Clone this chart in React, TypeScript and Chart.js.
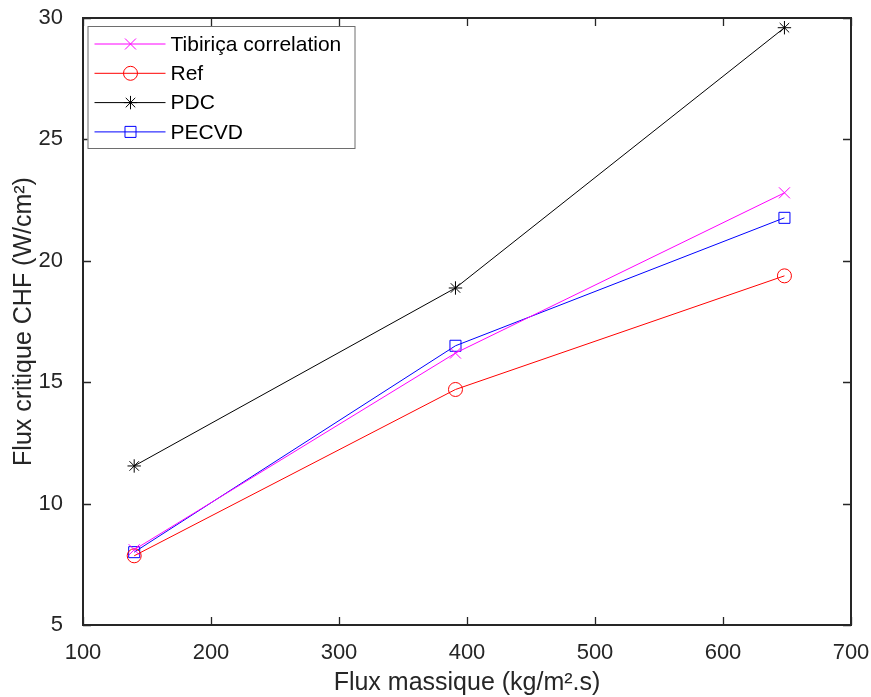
import React, { useEffect, useRef } from 'react';
import { Chart, registerables } from 'chart.js';
import { drawPoint } from 'chart.js/helpers';

Chart.register(...registerables);

// ---- Data ----
const massFlux = [140, 391, 648];
const tibiricaValues = [8.1, 16.2, 22.8];
const refValues = [7.85, 14.7, 19.38];
const pdcValues = [11.55, 18.88, 29.6];
const pecvdValues = [8.0, 16.5, 21.77];
const seriesLabels = ['Tibiriça correlation', 'Ref', 'PDC', 'PECVD'];
const xTickValues = [100, 200, 300, 400, 500, 600, 700];
const yTickValues = [5, 10, 15, 20, 25, 30];
const xTitle = 'Flux massique (kg/m².s)';
const yTitle = 'Flux critique CHF (W/cm²)';

const AXIS_COLOR = '#262626';
const FONT = '"Liberation Sans", Arial, Helvetica, sans-serif';

const boxPlugin = {
  id: 'matlabBox',
  afterDatasetsDraw(chart: any) {
    const { ctx, chartArea: a, scales } = chart;
    const xs = scales.x;
    const ys = scales.y;
    ctx.save();
    ctx.strokeStyle = AXIS_COLOR;
    ctx.lineWidth = 1.3;
    const tl = 8;
    ctx.beginPath();
    xTickValues.forEach((v) => {
      const px = Math.round(xs.getPixelForValue(v)) + 0.5;
      ctx.moveTo(px, a.bottom);
      ctx.lineTo(px, a.bottom - tl);
      ctx.moveTo(px, a.top);
      ctx.lineTo(px, a.top + tl);
    });
    yTickValues.forEach((v) => {
      const py = Math.round(ys.getPixelForValue(v)) + 0.5;
      ctx.moveTo(a.left, py);
      ctx.lineTo(a.left + tl, py);
      ctx.moveTo(a.right, py);
      ctx.lineTo(a.right - tl, py);
    });
    ctx.stroke();
    ctx.lineWidth = 2;
    ctx.strokeRect(a.left, a.top, a.right - a.left, a.bottom - a.top);

    // Legend
    const lx = a.left + 4.5;
    const ly = a.top + 8;
    const lw = 267;
    const lh = 122;
    ctx.fillStyle = '#ffffff';
    ctx.fillRect(lx, ly, lw, lh);
    ctx.lineWidth = 1;
    ctx.strokeStyle = '#6e6e6e';
    ctx.strokeRect(lx + 0.5, ly + 0.5, lw, lh);
    ctx.font = `21px ${FONT}`;
    ctx.textBaseline = 'middle';
    ctx.textAlign = 'left';
    chart.data.datasets.forEach((ds: any, i: number) => {
      const cy = ly + 18 + i * 29.3;
      ctx.strokeStyle = ds.borderColor;
      ctx.lineWidth = 1;
      ctx.beginPath();
      ctx.moveTo(lx + 7, cy);
      ctx.lineTo(lx + 78, cy);
      ctx.stroke();
      ctx.fillStyle = 'rgba(0,0,0,0)';
      ctx.strokeStyle = ds.pointBorderColor;
      ctx.lineWidth = 1;
      drawPoint(ctx, { pointStyle: ds.pointStyle, radius: ds.pointRadius, borderWidth: 1, rotation: 0 }, lx + 43, cy);
      ctx.fillStyle = '#000000';
      ctx.fillText(ds.label, lx + 83, cy + 1);
    });
    ctx.restore();
  },
};

export default function App() {
  const canvasRef = useRef<HTMLCanvasElement | null>(null);

  useEffect(() => {
    if (!canvasRef.current) return;
    const mk = (label: string, values: number[], color: string, style: string, r: number) => ({
      label,
      data: massFlux.map((x, i) => ({ x, y: values[i] })),
      borderColor: color,
      backgroundColor: 'rgba(0,0,0,0)',
      pointBorderColor: color,
      pointBackgroundColor: 'rgba(0,0,0,0)',
      pointStyle: style,
      pointRadius: r,
      pointBorderWidth: 1,
      borderWidth: 1,
      showLine: true,
      tension: 0,
    });
    const chart = new Chart(canvasRef.current, {
      type: 'scatter',
      data: {
        datasets: [
          mk(seriesLabels[0], tibiricaValues, '#ff00ff', 'crossRot', 7.8),
          mk(seriesLabels[1], refValues, '#ff0000', 'circle', 7),
          mk(seriesLabels[2], pdcValues, '#000000', 'star', 6.7),
          mk(seriesLabels[3], pecvdValues, '#0000ff', 'rect', 7.8),
        ],
      },
      options: {
        animation: false,
        responsive: true,
        maintainAspectRatio: false,
        layout: { padding: { top: 18, right: 20, left: 0, bottom: 0 } },
        plugins: { legend: { display: false }, tooltip: { enabled: false } },
        scales: {
          x: {
            type: 'linear',
            min: 100,
            max: 700,
            afterBuildTicks: (s: any) => {
              s.ticks = xTickValues.map((v) => ({ value: v }));
            },
            afterFit: (s: any) => {
              s.height = 72;
              s.paddingLeft = 0;
              s.paddingRight = 0;
            },
            grid: { display: false },
            border: { display: false },
            ticks: { color: AXIS_COLOR, font: { family: FONT, size: 22 }, padding: 7, maxRotation: 0 },
            title: {
              display: true,
              text: xTitle,
              color: AXIS_COLOR,
              font: { family: FONT, size: 25, lineHeight: 1 },
              padding: { top: 0, bottom: 1 },
            },
          },
          y: {
            type: 'linear',
            min: 5,
            max: 30,
            afterBuildTicks: (s: any) => {
              s.ticks = yTickValues.map((v) => ({ value: v }));
            },
            afterFit: (s: any) => {
              s.width = 83;
              s.paddingTop = 0;
              s.paddingBottom = 0;
            },
            grid: { display: false },
            border: { display: false },
            ticks: { color: AXIS_COLOR, font: { family: FONT, size: 22 }, padding: 12 },
            title: {
              display: true,
              text: yTitle,
              color: AXIS_COLOR,
              font: { family: FONT, size: 25, lineHeight: 1 },
              padding: { top: 11.5, bottom: 0 },
            },
          },
        },
      },
      plugins: [boxPlugin],
    } as any);
    return () => chart.destroy();
  }, []);

  return (
    <div style={{ position: 'fixed', left: 0, top: 0, width: 871, height: 697, background: '#ffffff' }}>
      <canvas ref={canvasRef} />
    </div>
  );
}
